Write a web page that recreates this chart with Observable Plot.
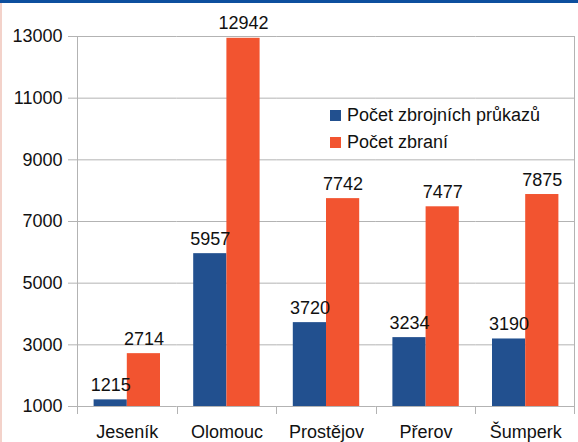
<!DOCTYPE html>
<html>
<head>
<meta charset="utf-8">
<script src="https://cdn.jsdelivr.net/npm/d3@7"></script>
<script src="https://cdn.jsdelivr.net/npm/@observablehq/plot@0.6"></script>
<style>
  html, body { margin: 0; padding: 0; background: #fff; }
  #wrap { position: relative; width: 578px; height: 442px; font-family: "Liberation Sans", Arial, sans-serif; overflow: hidden; }
  #topbar { position: absolute; left: 0; top: 0; width: 578px; height: 3px; background: #0d4f9e; }
  #leftbar { position: absolute; left: 0; top: 3px; width: 2px; height: 439px; background: #f3d2ca; }
  #legend { position: absolute; left: 330px; top: 102px; font-size: 18px; color: #111; }
  .row { display: flex; align-items: center; height: 27px; white-space: nowrap; }
  .sw { width: 11px; height: 11px; margin-right: 6px; }
</style>
</head>
<body>
<div id="wrap"></div>
<script>
const categories = ["Jeseník", "Olomouc", "Prostějov", "Přerov", "Šumperk"];
const series = ["Počet zbrojních průkazů", "Počet zbraní"];
const permits = [1215, 5957, 3720, 3234, 3190];
const weapons = [2714, 12942, 7742, 7477, 7875];
const yTicks = [1000, 3000, 5000, 7000, 9000, 11000, 13000];
const yBase = 1000;
const colors = ["#22508f", "#f25430"];

const data = [];
categories.forEach((c, i) => {
  data.push({category: c, series: series[0], value: permits[i]});
  data.push({category: c, series: series[1], value: weapons[i]});
});

const grey = "#b3b3b3";
const chart = Plot.plot({
  width: 578,
  height: 442,
  marginLeft: 77,
  marginRight: 3,
  marginTop: 36,
  marginBottom: 36,
  style: {fontFamily: "'Liberation Sans', Arial, sans-serif", fontSize: "18px", color: "#111", background: "transparent"},
  fx: {domain: categories, padding: 0, round: false, label: null},
  x: {domain: series, paddingInner: 0, paddingOuter: 0.5, round: false, axis: null},
  y: {domain: [yTicks[0], yTicks[yTicks.length - 1]], label: null},
  color: {domain: series, range: colors},
  marks: [
    Plot.gridY(yTicks, {stroke: grey, strokeOpacity: 1}),
    Plot.barY(data, {fx: "category", x: "series", y1: () => yBase, y2: "value", fill: "series"}),
    Plot.text(data, {fx: "category", x: "series", y: "value", text: d => String(d.value), lineAnchor: "bottom", dy: -9, fontSize: 18, fill: "#111"}),
    Plot.axisY(yTicks, {tickSize: 9, tickPadding: 6, stroke: grey, strokeOpacity: 1, fontSize: 18, fill: "#111", tickFormat: d => String(d), label: null}),
    Plot.axisFx({anchor: "bottom", tickSize: 0, tickPadding: 19, fontSize: 18, fill: "#111", label: null})
  ]
});

const wrap = document.getElementById("wrap");
wrap.appendChild(chart);

// category boundary ticks and side frame lines, placed with the plot's own scales
const fxs = chart.scale("fx");
const ys = chart.scale("y");
const band = d3.scaleBand(fxs.domain, fxs.range)
  .paddingInner(fxs.paddingInner ?? 0)
  .paddingOuter(fxs.paddingOuter ?? 0)
  .align(fxs.align ?? 0.5);
const edges = fxs.domain.map(d => band(d));
edges.push(band(fxs.domain[fxs.domain.length - 1]) + band.bandwidth());
const yBottom = ys.apply(yTicks[0]);
const yTop = ys.apply(yTicks[yTicks.length - 1]);
const svg = d3.select(chart.tagName.toLowerCase() === "svg" ? chart : chart.querySelector("svg"));
const g = svg.append("g").attr("stroke", grey).attr("stroke-width", 1);
edges.forEach((x, i) => {
  const xr = Math.round(x) + 0.5 - (i === edges.length - 1 ? 1 : 0);
  const isEnd = i === 0 || i === edges.length - 1;
  g.append("line")
    .attr("x1", xr).attr("x2", xr)
    .attr("y1", isEnd ? yTop : yBottom)
    .attr("y2", yBottom + 8);
});

const tb = document.createElement("div"); tb.id = "topbar"; wrap.appendChild(tb);
const lb = document.createElement("div"); lb.id = "leftbar"; wrap.appendChild(lb);

const legend = document.createElement("div");
legend.id = "legend";
series.forEach((s, i) => {
  const row = document.createElement("div");
  row.className = "row";
  const sw = document.createElement("span");
  sw.className = "sw";
  sw.style.background = colors[i];
  const t = document.createElement("span");
  t.textContent = s;
  row.appendChild(sw); row.appendChild(t);
  legend.appendChild(row);
});
wrap.appendChild(legend);
</script>
</body>
</html>
